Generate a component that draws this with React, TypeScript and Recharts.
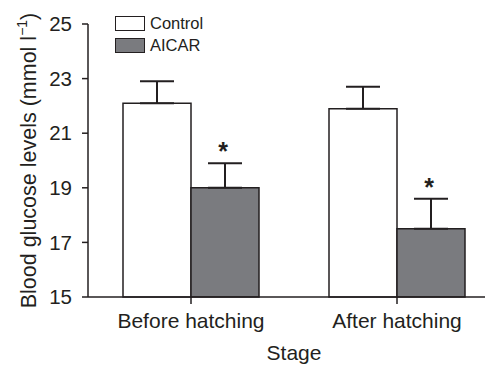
import React from 'react';
import { BarChart, Bar, XAxis, YAxis, ErrorBar, Legend, Label, LabelList } from 'recharts';

const categories = ['Before hatching', 'After hatching'];
const controlValues = [22.1, 21.9];
const controlErrors = [0.8, 0.8];
const aicarValues = [19.0, 17.5];
const aicarErrors = [0.9, 1.1];
const significant = ['*', '*'];
const seriesOrder = ['Control', 'AICAR'];
const yTicks = [15, 17, 19, 21, 23, 25];
const yDomain = [15, 25];

const data = categories.map((stage, i) => ({
  stage,
  control: controlValues[i],
  controlErr: [0, controlErrors[i]],
  aicar: aicarValues[i],
  aicarErr: [0, aicarErrors[i]],
  sig: significant[i],
}));

const INK = '#231f20';
const GRAY = '#7a7b7f';
const FONT = '"Liberation Sans", Arial, Helvetica, sans-serif';

const StarLabel = (props: any) => {
  const { x, y, width, height, index, value } = props;
  const v = aicarValues[index];
  const pxPerUnit = height / (v - yDomain[0]);
  const errTop = y - aicarErrors[index] * pxPerUnit;
  return (
    <text
      x={x + width / 2 - 2}
      y={errTop - 3}
      textAnchor="middle"
      fontSize={25}
      fontWeight="bold"
      fontFamily={FONT}
      fill={INK}
    >
      {value}
    </text>
  );
};

const YLabel = (props: any) => {
  const vb = props.viewBox || {};
  const cx = 21;
  const cy = vb.y + vb.height / 2;
  return (
    <text
      transform={`translate(${cx},${cy}) rotate(-90)`}
      textAnchor="middle"
      dominantBaseline="central"
      fontSize={21.5}
      fontFamily={FONT}
      fill={INK}
    >
      <tspan>Blood glucose levels (mmol l</tspan>
      <tspan fontSize={14} dy={-7}>−1</tspan>
      <tspan dy={7}>)</tspan>
    </text>
  );
};

const LegendContent = (props: any) => {
  const { payload } = props;
  const items = seriesOrder
    .map((name) => (payload || []).find((p: any) => p.value === name))
    .filter(Boolean);
  return (
    <div style={{ fontFamily: FONT, fontSize: 16.5, color: INK }}>
      {items.map((p: any, i: number) => (
        <div key={i} style={{ display: 'flex', alignItems: 'center', height: 22.5 }}>
          <div
            style={{
              width: 28,
              height: 13,
              background: p.payload && p.payload.fill,
              border: `1.5px solid ${INK}`,
              marginRight: 5,
            }}
          />
          <span>{p.value}</span>
        </div>
      ))}
    </div>
  );
};

export default function App() {
  return (
    <div style={{ width: 485, height: 357, overflow: 'hidden', position: 'relative' }}>
      <BarChart
        width={492}
        height={357}
        data={data}
        margin={{ top: 16, right: 0, bottom: 0, left: 0 }}
        barCategoryGap={35}
        barGap={0}
      >
        <XAxis
          dataKey="stage"
          height={68}
          tickSize={7}
          tickMargin={9}
          axisLine={{ stroke: INK, strokeWidth: 1.5 }}
          tickLine={{ stroke: INK, strokeWidth: 1.5 }}
          tick={{ fill: INK, fontSize: 21, fontFamily: FONT }}
        >
          <Label value="Stage" position="insideBottom" offset={5} fill={INK} fontSize={21} fontFamily={FONT} />
        </XAxis>
        <YAxis
          width={80}
          domain={yDomain}
          ticks={yTicks}
          interval={0}
          tickSize={6}
          tickMargin={10}
          axisLine={{ stroke: INK, strokeWidth: 1.5 }}
          tickLine={{ stroke: INK, strokeWidth: 1.5 }}
          tick={{ fill: INK, fontSize: 20.5, fontFamily: FONT }}
        >
          <Label content={<YLabel />} />
        </YAxis>
        <Legend
          layout="vertical"
          align="center"
          verticalAlign="middle"
          content={<LegendContent />}
          wrapperStyle={{ top: 4, left: 107, width: 'auto' }}
        />
        <Bar dataKey="control" name="Control" fill="#ffffff" stroke={INK} strokeWidth={1.5} isAnimationActive={false}>
          <ErrorBar dataKey="controlErr" direction="y" width={17} stroke={INK} strokeWidth={2} />
        </Bar>
        <Bar dataKey="aicar" name="AICAR" fill={GRAY} stroke={INK} strokeWidth={1.5} isAnimationActive={false}>
          <ErrorBar dataKey="aicarErr" direction="y" width={17} stroke={INK} strokeWidth={2} />
          <LabelList dataKey="sig" content={<StarLabel />} />
        </Bar>
      </BarChart>
    </div>
  );
}
